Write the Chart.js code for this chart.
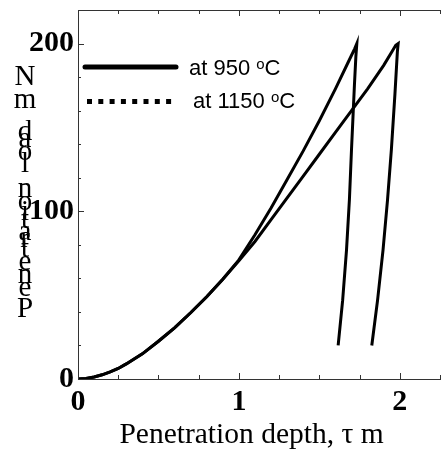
<!DOCTYPE html>
<html>
<head>
<meta charset="utf-8">
<script src="https://cdn.jsdelivr.net/npm/chart.js@4.4.1/dist/chart.umd.min.js"></script>
<style>
  html, body { margin: 0; padding: 0; background: #fff; }
  #wrap { width: 441px; height: 459px; position: relative; }
</style>
</head>
<body>
<div id="wrap"><canvas id="myChart"></canvas></div>
<script>
// loading branch then unloading branch
const depth950 = [0, 0.05, 0.1, 0.15, 0.2, 0.25, 0.3, 0.4, 0.5, 0.6, 0.7, 0.8, 0.9, 1.0, 1.1, 1.2, 1.3, 1.4, 1.5, 1.6, 1.7, 1.8, 1.9, 1.95, 1.975, 1.99,
  1.985, 1.97, 1.948, 1.924, 1.896, 1.862, 1.826];
const load950 = [0, 0.3, 1.2, 2.5, 4.2, 6.3, 9, 15, 22.5, 30.5, 39.5, 49, 59.5, 70.5, 82, 95, 108, 121, 134, 147, 160, 173, 187, 195, 199, 200,
  195, 170, 137, 107, 77, 47, 20];

const depth1150 = [0, 0.05, 0.1, 0.15, 0.2, 0.25, 0.3, 0.4, 0.5, 0.6, 0.7, 0.8, 0.9, 1.0, 1.1, 1.2, 1.3, 1.4, 1.5, 1.6, 1.68, 1.72, 1.733,
  1.727, 1.718, 1.71, 1.70, 1.687, 1.669, 1.645, 1.617];
const load1150 = [0, 0.3, 1.2, 2.5, 4.2, 6.3, 9, 15, 22.5, 30.5, 39.5, 49, 59.5, 71, 86, 102, 119, 136, 154, 173, 189, 197, 200,
  192, 175, 158, 137, 107, 77, 47, 20];

const seriesLabels = ["at 950 ", "at 1150 "];
const xTickLabels = [0, 1, 2];
const yTickLabels = [0, 100, 200];
const xTitle = "Penetration depth, \u03c4 m";
const yTitle = "Penetration load, mN";

const serif = "'Liberation Serif', 'Times New Roman', serif";
const sans = "'Liberation Sans', Arial, sans-serif";

const toPoints = (xs, ys) => xs.map((x, i) => ({ x: x, y: ys[i] }));

// ticks drawn inward, plus the top frame line
const frameTicks = {
  id: "frameTicks",
  afterDraw(chart) {
    const { ctx, chartArea: a, scales } = chart;
    const x = scales.x, y = scales.y;
    ctx.save();
    ctx.strokeStyle = "#333";
    ctx.lineWidth = 1;
    ctx.beginPath();
    ctx.moveTo(a.left, a.top + 0.5);
    ctx.lineTo(a.right + 1, a.top + 0.5);
    x.ticks.forEach((t) => {
      const px = Math.round(x.getPixelForValue(t.value)) + 0.5;
      const len = xTickLabels.includes(t.value) ? 6 : 4;
      ctx.moveTo(px, a.bottom);
      ctx.lineTo(px, a.bottom - len);
      ctx.moveTo(px, a.top);
      ctx.lineTo(px, a.top + len);
    });
    y.ticks.forEach((t) => {
      const py = Math.round(y.getPixelForValue(t.value)) + 0.5;
      const len = yTickLabels.includes(t.value) ? 6 : 3;
      ctx.moveTo(a.left, py);
      ctx.lineTo(a.left + len, py);
    });
    ctx.stroke();
    ctx.restore();
  }
};

// legend inside the plot: solid line and square dots
const insideLegend = {
  id: "insideLegend",
  afterDraw(chart) {
    const ctx = chart.ctx;
    ctx.save();
    ctx.fillStyle = "#000";
    ctx.strokeStyle = "#000";
    // solid sample
    ctx.lineWidth = 5;
    ctx.lineCap = "round";
    ctx.beginPath();
    ctx.moveTo(85, 67);
    ctx.lineTo(176, 67);
    ctx.stroke();
    // dotted sample
    for (let i = 0; i < 8; i++) {
      ctx.fillRect(87 + i * 11.3, 99, 5, 5);
    }
    const rows = [
      { x: 189, y: 75, text: chart.data.datasets[0].label },
      { x: 193, y: 108, text: chart.data.datasets[1].label }
    ];
    ctx.textBaseline = "alphabetic";
    rows.forEach((r) => {
      ctx.font = "22px " + sans;
      ctx.fillText(r.text, r.x, r.y);
      let w = ctx.measureText(r.text).width;
      ctx.font = "15px " + sans;
      ctx.fillText("o", r.x + w, r.y - 6);
      w += ctx.measureText("o").width;
      ctx.font = "22px " + sans;
      ctx.fillText("C", r.x + w, r.y);
    });
    ctx.restore();
  }
};

// axis titles: x centred a little left of the plot, y letters stacked bottom-up as in the picture
const axisTitles = {
  id: "axisTitles",
  afterDraw(chart) {
    const ctx = chart.ctx;
    ctx.save();
    ctx.fillStyle = "#000";
    ctx.textBaseline = "alphabetic";
    ctx.textAlign = "center";
    ctx.font = "29.5px " + serif;
    ctx.fillText(xTitle, 251.5, 443);
    const chars = yTitle.replace(/[ ,]/g, "").split("").reverse();
    const base = [85, 108, 140, 147, 160, 172, 197, 210, 220, 228, 240, 247, 257, 270, 283, 296, 317];
    ctx.font = "29px " + serif;
    chars.forEach((c, i) => ctx.fillText(c, 25, base[i]));
    ctx.restore();
  }
};

const myChart = document.getElementById("myChart");

new Chart(myChart, {
  type: "scatter",
  data: {
    datasets: [
      {
        label: seriesLabels[0],
        data: toPoints(depth950, load950),
        showLine: true,
        borderColor: "#000",
        backgroundColor: "#000",
        borderWidth: 3,
        pointRadius: 0,
        tension: 0
      },
      {
        label: seriesLabels[1],
        data: toPoints(depth1150, load1150),
        showLine: true,
        borderColor: "#000",
        backgroundColor: "#000",
        borderWidth: 3,
        pointRadius: 0,
        tension: 0
      }
    ]
  },
  options: {
    responsive: true,
    maintainAspectRatio: false,
    animation: false,
    layout: { padding: { top: 10, right: 1, left: 0, bottom: 0 } },
    plugins: {
      legend: { display: false },
      tooltip: { enabled: false }
    },
    scales: {
      x: {
        type: "linear",
        min: 0,
        max: 2.25,
        afterFit: (scale) => {
          scale.height = 80;
          scale.paddingLeft = 0;
          scale.paddingRight = 0;
        },
        grid: { display: false, drawTicks: false },
        border: { display: true, color: "#333", width: 1 },
        ticks: {
          stepSize: 0.25,
          autoSkip: false,
          maxRotation: 0,
          padding: 5,
          color: "#000",
          font: { family: serif, size: 30, weight: "bold" },
          callback: (v) => (xTickLabels.includes(v) ? String(v) : "")
        }
      },
      y: {
        type: "linear",
        min: 0,
        max: 220,
        afterFit: (scale) => {
          scale.width = 78;
          scale.paddingTop = 0;
          scale.paddingBottom = 0;
        },
        grid: { display: false, drawTicks: false },
        border: { display: true, color: "#333", width: 1 },
        ticks: {
          stepSize: 20,
          autoSkip: false,
          padding: 4,
          color: "#000",
          font: { family: serif, size: 30, weight: "bold" },
          callback: (v) => (yTickLabels.includes(v) ? String(v) : "")
        }
      }
    }
  },
  plugins: [frameTicks, insideLegend, axisTitles]
});
</script>
</body>
</html>
